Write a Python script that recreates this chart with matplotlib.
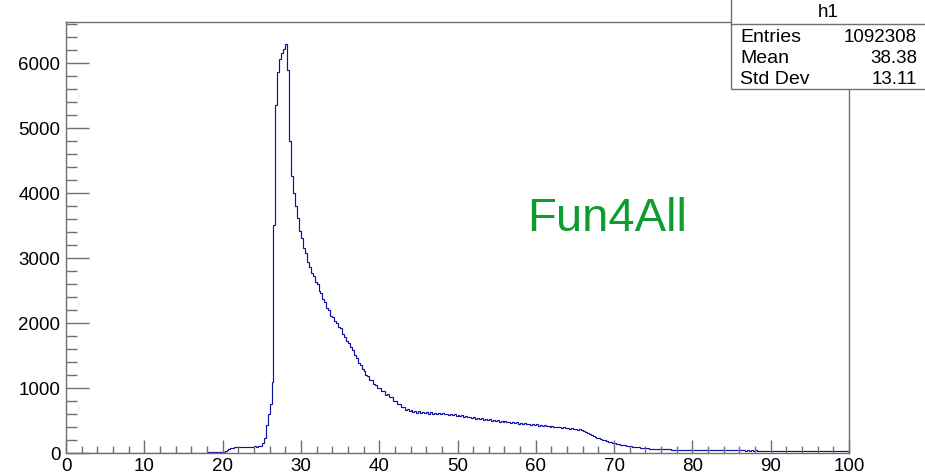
import matplotlib
matplotlib.use('Agg')
import matplotlib.pyplot as plt
from matplotlib.ticker import MultipleLocator
from matplotlib.patches import Rectangle
import numpy as np

plt.rcParams['font.family'] = ['Liberation Sans', 'DejaVu Sans']

# 直方图 h1：0~100 共 400 个 bin（宽 0.25）
x_min, x_max = 0.0, 100.0
counts = (
    [0] * 72 +                                                  # 0 - 18
    [3, 4, 5, 4, 6, 5, 7, 9] +                                  # 18 - 20
    [14, 22, 35, 52, 66, 74, 80, 83, 86, 84, 88, 91,
     87, 90, 85, 92, 94, 89, 96, 104] +                         # 20 - 25
    [150, 230, 420, 590, 740, 1080, 3500, 5350,
     5850, 6060, 6150, 6210, 6290, 5880, 4800, 4250,
     3990, 3790, 3610, 3410] +                                  # 25 - 30
    [3300, 3140, 3070, 2930, 2860, 2760, 2720, 2630,
     2590, 2490, 2450, 2360, 2310, 2220, 2200, 2100,
     2080, 2020, 1990, 1930] +                                  # 30 - 35
    [1910, 1830, 1770, 1720, 1690, 1630, 1580, 1500,
     1460, 1380, 1340, 1280, 1260, 1200, 1170, 1120,
     1110, 1050, 1040, 990] +                                   # 35 - 40
    [990, 940, 940, 890, 900, 860, 850, 800,
     800, 750, 740, 700, 700, 660, 670, 640,
     650, 620, 640, 615] +                                      # 40 - 45
    [635, 610, 630, 605, 625, 600, 620, 600,
     615, 595, 612, 590, 605, 585, 600, 578,
     592, 570, 585, 565] +                                      # 45 - 50
    [578, 556, 570, 550, 562, 540, 552, 532,
     545, 522, 535, 515, 528, 505, 518, 500,
     512, 490, 502, 485] +                                      # 50 - 55
    [496, 475, 488, 470, 482, 462, 474, 458,
     468, 450, 462, 445, 455, 440, 450, 432,
     444, 428, 438, 420] +                                      # 55 - 60
    [432, 415, 425, 410, 420, 402, 412, 398,
     408, 390, 400, 385, 395, 378, 388, 372,
     382, 366, 376, 360] +                                      # 60 - 65
    [368, 352, 360, 342, 335, 318, 300, 285,
     270, 255, 240, 228, 218, 205, 196, 185,
     176, 168, 158, 150] +                                      # 65 - 70
    [142, 134, 126, 120, 114, 108, 102, 97,
     93, 88, 84, 80, 77, 74, 71, 68,
     66, 63, 61, 59] +                                          # 70 - 75
    [58, 55, 54, 52, 51, 49, 49, 47,
     47, 45, 46, 44, 44, 42, 43, 41,
     42, 40, 41, 39] +                                          # 75 - 80
    [40, 38, 39, 37, 38, 37, 38, 36, 37, 35,
     36, 35, 36, 34, 35, 33, 35, 33, 34, 32] +                  # 80 - 85
    [34, 32, 33, 31, 33, 31, 32, 30, 32, 30,
     31, 30, 31, 29, 30, 29, 30, 28, 29, 28] +                  # 85 - 90
    [29, 27, 29, 27, 28, 26, 28, 26, 27, 26,
     27, 25, 26, 25, 26, 24, 26, 24, 25, 24] +                  # 90 - 95
    [25, 23, 24, 23, 24, 22, 23, 22, 23, 21,
     22, 21, 22, 20, 21, 20, 21, 20, 20, 19]                    # 95 - 100
)

stat_labels = ['Entries', 'Mean', 'Std Dev']
stat_values = ['1092308', '38.38', '13.11']
hist_name = 'h1'
watermark = 'Fun4All'

W, H = 925, 477
fig = plt.figure(figsize=(W / 100, H / 100), dpi=100)
ax = fig.add_axes([66 / W, (H - 453.5) / H, (849 - 66) / W, (453.5 - 22.7) / H])

edges = np.linspace(x_min, x_max, len(counts) + 1)
ax.stairs(counts, edges, color='#1010a0', linewidth=0.85, zorder=1)

ax.set_xlim(x_min, x_max)
ax.set_ylim(0, 6630)

# 坐标轴样式（仿 ROOT：刻度朝内，仅左/下）
frame_color = '#707070'
for s in ax.spines.values():
    s.set_color(frame_color)
    s.set_linewidth(1.0)
ax.xaxis.set_major_locator(MultipleLocator(10))
ax.xaxis.set_minor_locator(MultipleLocator(2))
ax.yaxis.set_major_locator(MultipleLocator(1000))
ax.yaxis.set_minor_locator(MultipleLocator(200))
ax.tick_params(axis='x', which='major', direction='in', length=9.4, width=1,
               color=frame_color, labelsize=13.5, pad=3)
ax.tick_params(axis='x', which='minor', direction='in', length=5, width=1,
               color=frame_color)
ax.tick_params(axis='y', which='major', direction='in', length=16.5, width=1,
               color=frame_color, labelsize=13.5, pad=4)
ax.tick_params(axis='y', which='minor', direction='in', length=8, width=1,
               color=frame_color)

ax.text((527 - 66) / (849 - 66), (453.5 - 219) / (453.5 - 22.7),
        watermark, transform=ax.transAxes, color='#0e9c31', fontsize=34,
        ha='left', va='center')

# 统计框
box_l, box_b, box_t = 731, 89.5, -2
fig.patches.append(Rectangle((box_l / W, (H - box_b) / H), (W + 10 - box_l) / W,
                             (box_b - box_t) / H, transform=fig.transFigure,
                             facecolor='white', edgecolor=frame_color,
                             linewidth=1.0, zorder=5))
fig.add_artist(plt.Line2D([box_l / W, 1], [(H - 25) / H, (H - 25) / H],
                          transform=fig.transFigure, color=frame_color,
                          linewidth=1.0, zorder=6))
fig.text((box_l + W) / 2 / W, (H - 12.5) / H, hist_name, ha='center',
         va='center', fontsize=13.5, zorder=7)
for i, (lab, val) in enumerate(zip(stat_labels, stat_values)):
    y = (H - (37 + 21.5 * i)) / H
    fig.text(740 / W, y, lab, ha='left', va='center', fontsize=14, zorder=7)
    fig.text(917 / W, y, val, ha='right', va='center', fontsize=13.5, zorder=7)

fig.savefig('out.png', dpi=100, facecolor='white')
